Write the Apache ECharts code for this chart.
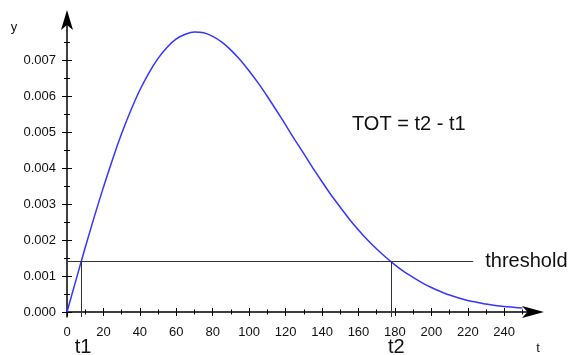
<!DOCTYPE html>
<html>
<head>
<meta charset="utf-8">
<script src="https://cdn.jsdelivr.net/npm/echarts@6/dist/echarts.min.js"></script>
<style>
  html, body { margin: 0; padding: 0; background: #fff; }
  #chart { width: 570px; height: 355px; }
</style>
</head>
<body>
<div id="chart"></div>
<script>
// curve samples, every 5 units of t
const tValues = [
  0, 5, 10, 15, 20, 25, 30, 35, 40, 45, 50, 55, 60, 65, 70, 75, 80, 85, 90, 95, 100, 105, 110, 115, 120, 125,
  130, 135, 140, 145, 150, 155, 160, 165, 170, 175, 180, 185, 190, 195, 200, 205, 210, 215, 220, 225, 230, 235,
  240, 245, 250,
]
const yValues = [
  0, 0.0009, 0.00179, 0.00265, 0.00347, 0.00424, 0.00496, 0.0056, 0.00617, 0.00665, 0.00705, 0.00736, 0.00759,
  0.00772, 0.00778, 0.00776, 0.00766, 0.0075, 0.00728, 0.00701, 0.0067, 0.00636, 0.00599, 0.0056, 0.0052, 0.00479,
  0.0044, 0.004, 0.00362, 0.00325, 0.00291, 0.00258, 0.00228, 0.002, 0.00175, 0.00152, 0.00131, 0.00112, 0.00096,
  0.00081, 0.00068, 0.00057, 0.00047, 0.00039, 0.00032, 0.00027, 0.00022, 0.00018, 0.00015, 0.00013, 0.00011,
]

const xMajorTicks = [0, 20, 40, 60, 80, 100, 120, 140, 160, 180, 200, 220, 240]
const xMinorTicks = [10, 30, 50, 70, 90, 110, 130, 150, 170, 190, 210, 230, 250]
const yMajorTicks = [0, 0.001, 0.002, 0.003, 0.004, 0.005, 0.006, 0.007]
const yMinorTicks = [0.0005, 0.0015, 0.0025, 0.0035, 0.0045, 0.0055, 0.0065, 0.0075]

const threshold = 0.0014
const thresholdEnd = 223
const t1 = 8
const t2 = 178

const X_MAX = 258
const Y_MIN = -0.00014
const Y_MAX = 0.0082
const FONT = '"Liberation Sans", Arial, sans-serif'

const chart = echarts.init(document.getElementById('chart'))

function xAxisDef(ticks, len, inside, main) {
  return {
    type: 'value',
    position: 'bottom',
    min: 0,
    max: X_MAX,
    axisLine: {
      show: main,
      onZero: true,
      symbol: ['none', 'arrow'],
      symbolSize: [9, 22],
      symbolOffset: [0, 7],
      lineStyle: { color: '#000', width: 1.5 },
    },
    axisTick: { show: true, customValues: ticks, length: len, inside, lineStyle: { color: '#000', width: 1 } },
    axisLabel: main
      ? { show: true, customValues: xMajorTicks, margin: 9, color: '#111', fontSize: 13, fontFamily: FONT }
      : { show: false },
    splitLine: { show: false },
  }
}

function yAxisDef(ticks, len, inside, main) {
  return {
    type: 'value',
    position: 'left',
    min: Y_MIN,
    max: Y_MAX,
    axisLine: {
      show: main,
      onZero: true,
      symbol: ['none', 'arrow'],
      symbolSize: [9, 20],
      symbolOffset: [0, 7],
      lineStyle: { color: '#000', width: 1.5 },
    },
    axisTick: { show: true, customValues: ticks, length: len, inside, lineStyle: { color: '#000', width: 1 } },
    axisLabel: main
      ? {
          show: true,
          customValues: yMajorTicks,
          margin: 11,
          color: '#111',
          fontSize: 13,
          fontFamily: FONT,
          formatter: (v) => v.toFixed(3),
        }
      : { show: false },
    splitLine: { show: false },
  }
}

chart.setOption({
  animation: false,
  grid: { left: 67, right: 33, top: 17, bottom: 38, containLabel: false },
  xAxis: [
    xAxisDef(xMajorTicks, 4, false, true),
    xAxisDef(xMajorTicks, 4, true, false),
    xAxisDef(xMinorTicks, 2.5, false, false),
    xAxisDef(xMinorTicks, 2.5, true, false),
  ],
  yAxis: [
    yAxisDef(yMajorTicks, 5, false, true),
    yAxisDef(yMajorTicks, 5, true, false),
    yAxisDef(yMinorTicks, 3, false, false),
    yAxisDef(yMinorTicks, 3, true, false),
  ],
  graphic: [
    { type: 'text', x: 14, y: 27, style: { text: 'y', fontSize: 13, fontFamily: FONT, fill: '#111', align: 'center', verticalAlign: 'middle' } },
    { type: 'text', x: 538, y: 348, style: { text: 't', fontSize: 13, fontFamily: FONT, fill: '#111', align: 'center', verticalAlign: 'middle' } },
    { type: 'text', x: 352, y: 124, style: { text: 'TOT = t2 - t1', fontSize: 20, fontFamily: FONT, fill: '#111', align: 'left', verticalAlign: 'middle' } },
  ],
  series: [
    {
      type: 'line',
      xAxisIndex: 0,
      yAxisIndex: 0,
      data: tValues.map((t, i) => [t, yValues[i]]),
      smooth: 0.2,
      symbol: 'none',
      clip: false,
      lineStyle: { color: '#3535ff', width: 1.5 },
      markLine: {
        silent: true,
        symbol: 'none',
        animation: false,
        lineStyle: { color: '#333', width: 1, type: 'solid' },
        data: [
          [
            { coord: [0, threshold] },
            {
              coord: [thresholdEnd, threshold],
              label: {
                show: true,
                position: 'end',
                distance: 12,
                formatter: 'threshold',
                fontSize: 20,
                fontFamily: FONT,
                color: '#111',
                padding: [7, 0, 0, 0],
              },
            },
          ],
          [
            {
              coord: [t1, Y_MIN],
              label: { show: true, position: 'start', distance: 20, formatter: 't1', fontSize: 20, fontFamily: FONT, color: '#111', padding: [0, 0, 0, 3] },
            },
            { coord: [t1, threshold] },
          ],
          [
            {
              coord: [t2, Y_MIN],
              label: { show: true, position: 'start', distance: 20, formatter: 't2', fontSize: 20, fontFamily: FONT, color: '#111', padding: [0, 0, 0, 10] },
            },
            { coord: [t2, threshold] },
          ],
        ],
      },
    },
  ],
})
</script>
</body>
</html>
